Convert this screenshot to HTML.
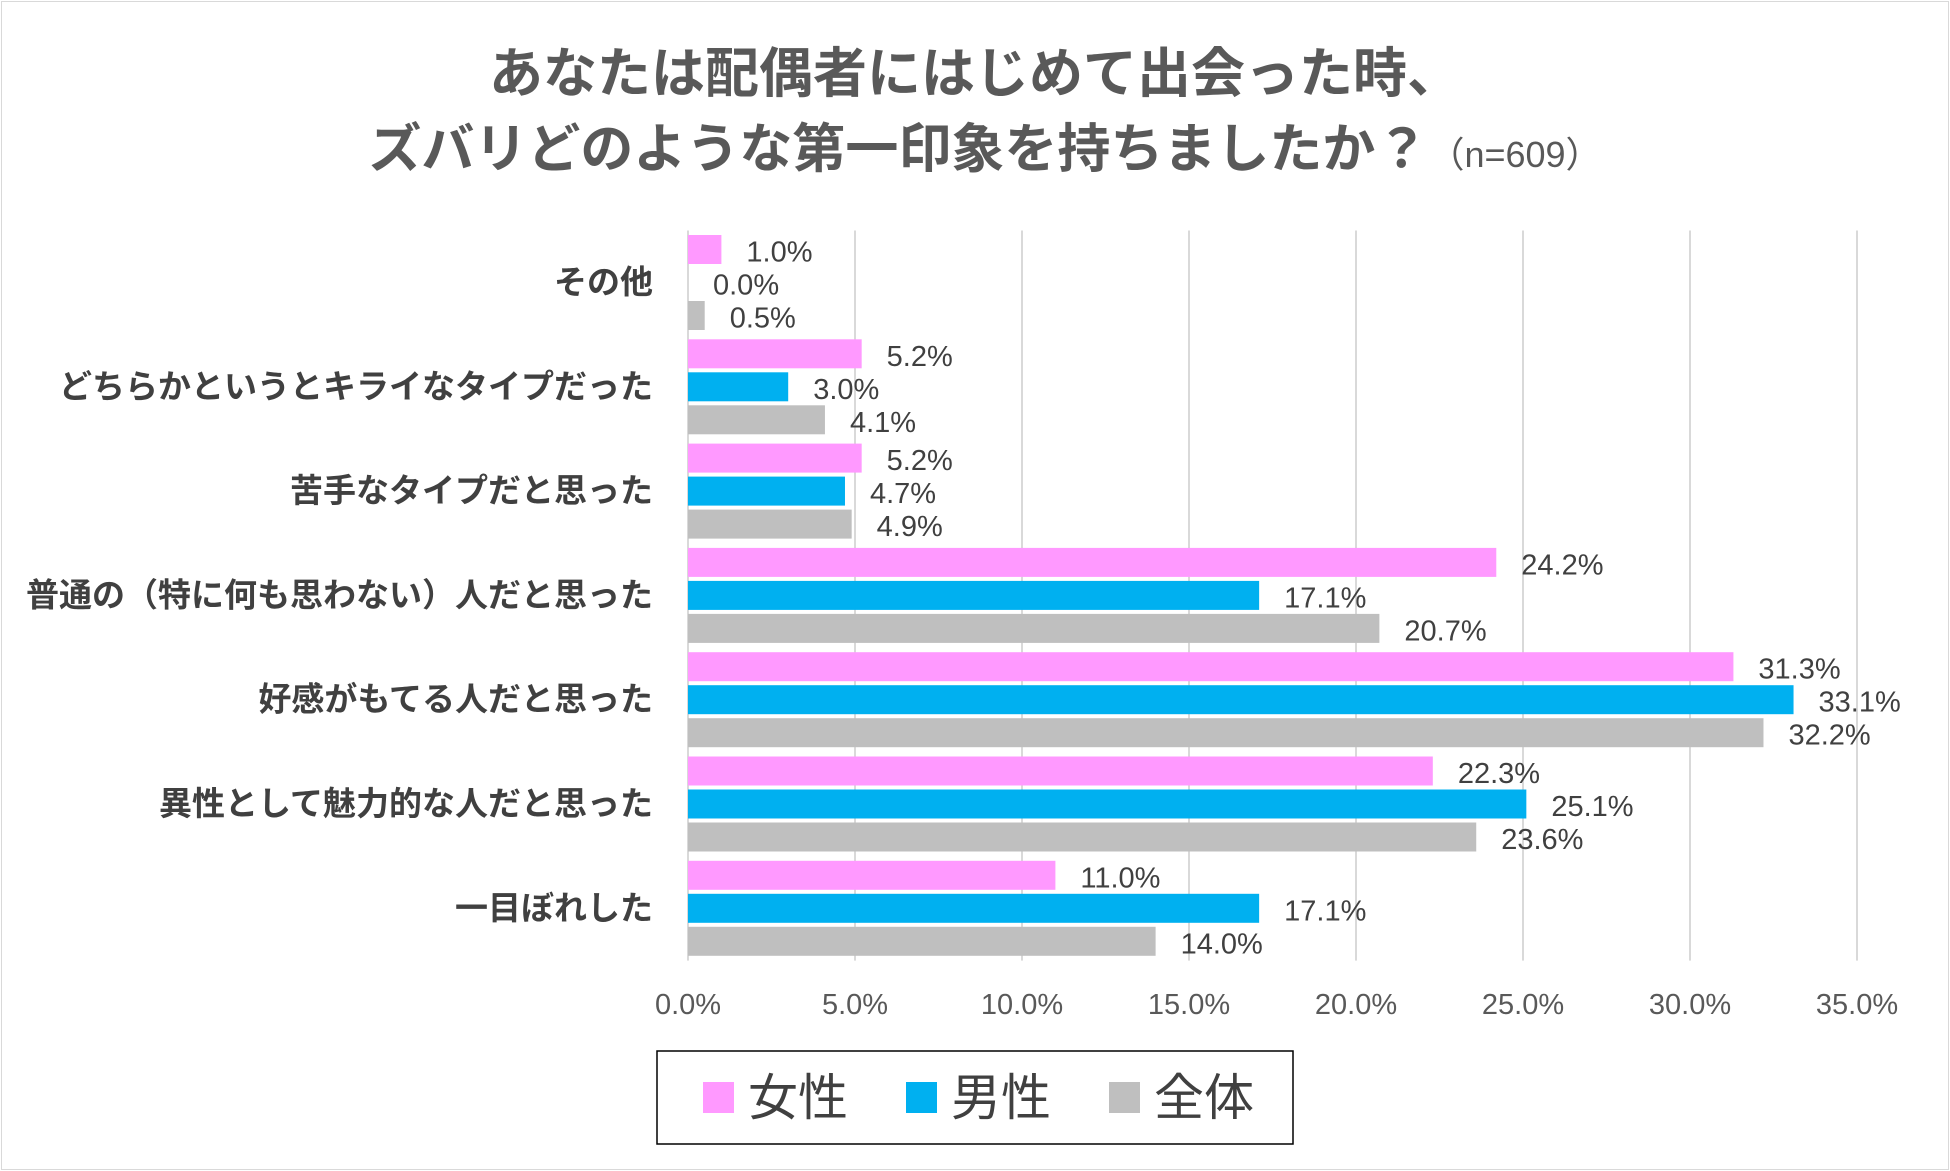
<!DOCTYPE html>
<html><head><meta charset="utf-8">
<style>
html,body{margin:0;padding:0;background:#fff;}
body{width:1950px;height:1171px;overflow:hidden;position:relative;font-family:"Liberation Sans","Noto Sans CJK JP",sans-serif;}
#frame{position:absolute;left:1px;top:1px;width:1946px;height:1167px;border:1px solid #d9d9d9;}
</style></head>
<body>
<div id="frame"></div>
<svg id="chart" width="1950" height="1171" style="position:absolute;left:0;top:0">
  <g font-family="Liberation Sans, Noto Sans CJK JP, sans-serif" fill="#595959" font-weight="bold" text-anchor="middle">
    <text x="975" y="92" font-size="54">あなたは配偶者にはじめて出会った時、</text>
    <text x="985" y="167" font-size="53">ズバリどのような第一印象を持ちましたか？<tspan font-size="36" font-weight="normal">（n=609）</tspan></text>
  </g>
  <g id="grid"></g>
  <g id="bars"></g>
  <g id="labels"></g>
  <g id="cats"></g>
  <g id="ticks"></g>
  <g>
    <rect x="657" y="1051" width="636" height="93" fill="#fff" stroke="#000" stroke-width="1.5"/>
    <rect x="703" y="1082" width="31" height="31" fill="#FF99FF"/>
    <text x="748" y="1115" font-size="50" fill="#404040">女性</text>
    <rect x="906" y="1082" width="31" height="31" fill="#00B0F0"/>
    <text x="951" y="1115" font-size="50" fill="#404040">男性</text>
    <rect x="1109" y="1082" width="31" height="31" fill="#BFBFBF"/>
    <text x="1154" y="1115" font-size="50" fill="#404040">全体</text>
  </g>
</svg>
<script>
const categories = ["その他","どちらかというとキライなタイプだった","苦手なタイプだと思った","普通の（特に何も思わない）人だと思った","好感がもてる人だと思った","異性として魅力的な人だと思った","一目ぼれした"];
const female = [1.0,5.2,5.2,24.2,31.3,22.3,11.0];
const male = [0.0,3.0,4.7,17.1,33.1,25.1,17.1];
const total = [0.5,4.1,4.9,20.7,32.2,23.6,14.0];
const tickValues = [0,5,10,15,20,25,30,35];
const seriesNames = ["female","male","total"];

const NS="http://www.w3.org/2000/svg";
const x0=688, pxPer=167/5, plotTop=230.5, band=104.3, barH=29, barStep=33;
const xs=v=>x0+v*pxPer;
const colors=["#FF99FF","#00B0F0","#BFBFBF"];
function mk(tag,attrs,parent){const e=document.createElementNS(NS,tag);for(const k in attrs)e.setAttribute(k,attrs[k]);parent.appendChild(e);return e;}
const grid=document.getElementById('grid'),bars=document.getElementById('bars'),labels=document.getElementById('labels'),cats=document.getElementById('cats'),ticks=document.getElementById('ticks');
const plotBottom=plotTop+band*categories.length;
tickValues.forEach(t=>{
  const l=mk('line',{x1:xs(t),x2:xs(t),y1:plotTop,y2:plotBottom,stroke:'#D9D9D9','stroke-width':2},grid);
  
  
  const tx=mk('text',{x:xs(t),y:1014,'font-size':29,fill:'#595959','text-anchor':'middle'},ticks);
  tx.textContent=t.toFixed(1)+'%';
  
  
});
const series=[female,male,total];
categories.forEach((c,i)=>{
  const gTop=plotTop+i*band+4.5;
  const ct=mk('text',{x:653,y:gTop+barStep+barH/2+11,'font-size':33,'font-weight':'bold',fill:'#404040','text-anchor':'end'},cats);
  ct.textContent=c;
  
  
  series.forEach((s,j)=>{
    const y=gTop+j*barStep;
    if(s[i]>0){
      const r=mk('rect',{x:x0,y:y,width:xs(s[i])-x0,height:barH,fill:colors[j]},bars);
      
      
    }
    const t=mk('text',{x:xs(s[i])+25,y:y+barH/2+12,'font-size':29,fill:'#404040'},labels);
    t.textContent=s[i].toFixed(1)+'%';
    
    
  });
});
</script>
</body></html>
